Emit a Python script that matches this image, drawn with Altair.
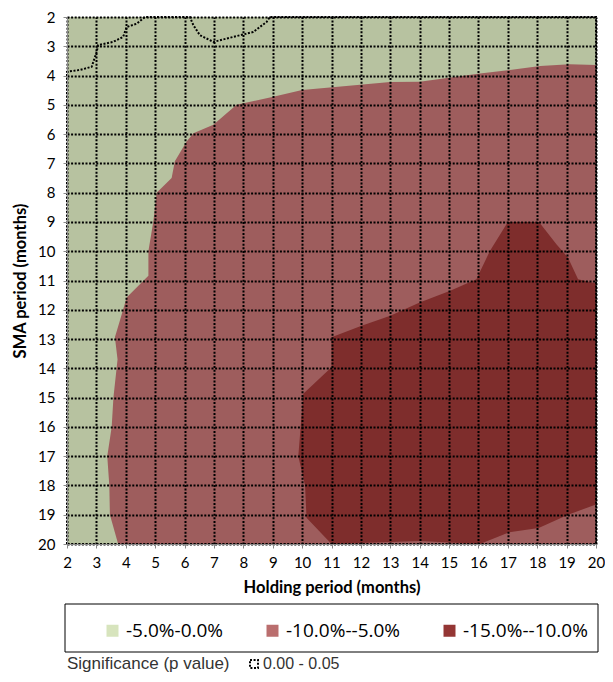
import altair as alt
import pandas as pd

# ---- data ----
holding_ticks = list(range(2, 21))
sma_ticks = list(range(2, 21))

bands = ["-5.0%-0.0%", "-10.0%--5.0%", "-15.0%--10.0%"]
band_colors = ["#d7e4bd", "#ba6e6e", "#943634"]

# boundary of the -10%..-5% region (holding x, SMA y)
med_x = [20.0, 19.1, 18.1, 17.07, 16.05, 14.0, 13.0, 10.0, 9.02, 7.77, 6.98, 6.3, 6.07, 5.67,
         5.56, 5.05, 4.94, 4.77, 4.77, 4.03, 3.8, 3.63, 3.72, 3.58, 3.52, 3.37, 3.44, 3.46, 3.74, 20.0]
med_y = [3.64, 3.61, 3.67, 3.81, 3.93, 4.21, 4.22, 4.49, 4.72, 5.0, 5.68, 5.97, 6.25, 6.93,
         7.5, 8.0, 8.97, 9.99, 10.84, 11.58, 12.37, 12.94, 13.7, 15.0, 16.0, 17.0, 18.0, 19.0, 20.0, 20.0]

# boundary of the -15%..-10% region
dark_x = [17.0, 18.06, 18.66, 19.05, 19.39, 20.0, 20.0, 19.05, 18.05, 17.05, 16.05, 14.0, 11.0,
          10.15, 10.1, 9.87, 10.04, 11.0, 11.0, 12.0, 13.0, 14.0, 15.04, 15.93, 16.39]
dark_y = [9.0, 9.0, 9.77, 10.22, 10.96, 11.1, 18.65, 19.0, 19.45, 19.6, 20.0, 19.9, 20.0,
          19.1, 18.0, 17.0, 14.87, 13.96, 12.94, 12.55, 12.2, 11.75, 11.35, 10.96, 9.99]

# boundary of the significant (p < 0.05) area
sig_label = "0.00 - 0.05"
sig_x = [2, 2, 2.44, 2.84, 3.01, 3.06, 3.57, 3.91, 4.03, 4.37, 4.65, 6.18, 6.3, 6.52, 6.98,
         7.66, 8.34, 8.79, 8.9, 20, 20, 2]
sig_y = [20, 3.87, 3.81, 3.7, 3.19, 2.96, 2.85, 2.68, 2.34, 2.23, 2.0, 2.0, 2.28, 2.62, 2.85,
         2.68, 2.51, 2.17, 2.0, 2.0, 20, 20]

# ---- tables ----
bg = pd.DataFrame({"x": [holding_ticks[0]], "x2": [holding_ticks[-1]],
                   "y": [sma_ticks[0]], "y2": [sma_ticks[-1]], "band": [bands[0]]})
med = pd.DataFrame({"x": med_x, "y": med_y, "o": range(len(med_x)), "band": bands[1]})
dark = pd.DataFrame({"x": dark_x, "y": dark_y, "o": range(len(dark_x)), "band": bands[2]})
sig = pd.DataFrame({"x": sig_x, "y": sig_y, "o": range(len(sig_x)), "sig": sig_label})

W, H = 529, 527

xscale = alt.Scale(domain=[holding_ticks[0], holding_ticks[-1]], nice=False, zero=False)
yscale = alt.Scale(domain=[sma_ticks[0], sma_ticks[-1]], reverse=True, nice=False, zero=False)

axis_common = dict(grid=True, gridColor="black", gridDash=[2, 1.6], gridWidth=2, gridOpacity=1,
                   domainColor="#8a8a8a", tickColor="#8a8a8a", tickSize=4, zindex=1,
                   labelFont="Lato", labelFontSize=15, labelColor="black",
                   titleFont="Lato", titleFontSize=16.5, titleFontWeight="bold", titleColor="black")
xaxis = alt.Axis(values=holding_ticks, title="Holding period (months)", labelPadding=7,
                 titlePadding=9, labelFlush=False, **axis_common)
yaxis = alt.Axis(values=sma_ticks, title="SMA period (months)", labelPadding=8,
                 titlePadding=9, labelFlush=False, **axis_common)

X = alt.X("x:Q", scale=xscale, axis=xaxis)
Y = alt.Y("y:Q", scale=yscale, axis=yaxis)

color = alt.Color("band:N", scale=alt.Scale(domain=bands, range=band_colors),
                  legend=alt.Legend(orient="none", legendX=36, legendY=604, direction="horizontal",
                                    title=None, symbolType="square", symbolSize=144,
                                    symbolStrokeWidth=0, labelFont="Open Sans", labelFontSize=19,
                                    labelColor="black", labelOffset=4, columnPadding=39,
                                    padding=0))

base_bg = alt.Chart(bg).mark_rect().encode(
    x=X, x2="x2:Q", y=Y, y2="y2:Q", color=color)

med_layer = alt.Chart(med).mark_line(filled=True, interpolate="linear").encode(
    x=X, y=Y, order="o:Q", color=color)

dark_layer = alt.Chart(dark).mark_line(filled=True, interpolate="linear").encode(
    x=X, y=Y, order="o:Q", color=color)

shade = alt.Chart(bg).mark_rect(color="black", opacity=0.15).encode(
    x=X, x2="x2:Q", y=Y, y2="y2:Q")

sig_layer = alt.Chart(sig).mark_line(color="black", strokeWidth=2, strokeCap="butt", clip=False).encode(
    x=X, y=Y, order="o:Q",
    strokeDash=alt.StrokeDash("sig:N", scale=alt.Scale(domain=[sig_label], range=[[2, 1.6]]),
                              legend=alt.Legend(orient="none", legendX=0, legendY=639,
                                                title="Significance (p value)", titleOrient="left",
                                                titleFont="Liberation Sans", titleFontSize=17,
                                                titleFontWeight="normal", titleColor="#333333",
                                                titlePadding=16, symbolType="square", symbolSize=64,
                                                symbolStrokeColor="black", symbolStrokeWidth=2,
                                                labelFont="Liberation Sans", labelFontSize=16,
                                                labelColor="#333333", labelOffset=1, padding=0)))

box = alt.Chart(pd.DataFrame({"k": [0]})).mark_rect(fillOpacity=0, stroke="black", strokeWidth=1).encode(
    x=alt.value(-2), x2=alt.value(531), y=alt.value(587), y2=alt.value(635))

chart = alt.layer(base_bg, med_layer, dark_layer, shade, sig_layer, box).properties(
    width=W, height=H,
    autosize=alt.AutoSizeParams(type="none"),
    padding={"left": 59, "top": 9, "right": 9, "bottom": 130},
).configure_view(stroke="#a0a0a0")

chart.save("out.html", embed_options={"renderer": "svg", "actions": False})
